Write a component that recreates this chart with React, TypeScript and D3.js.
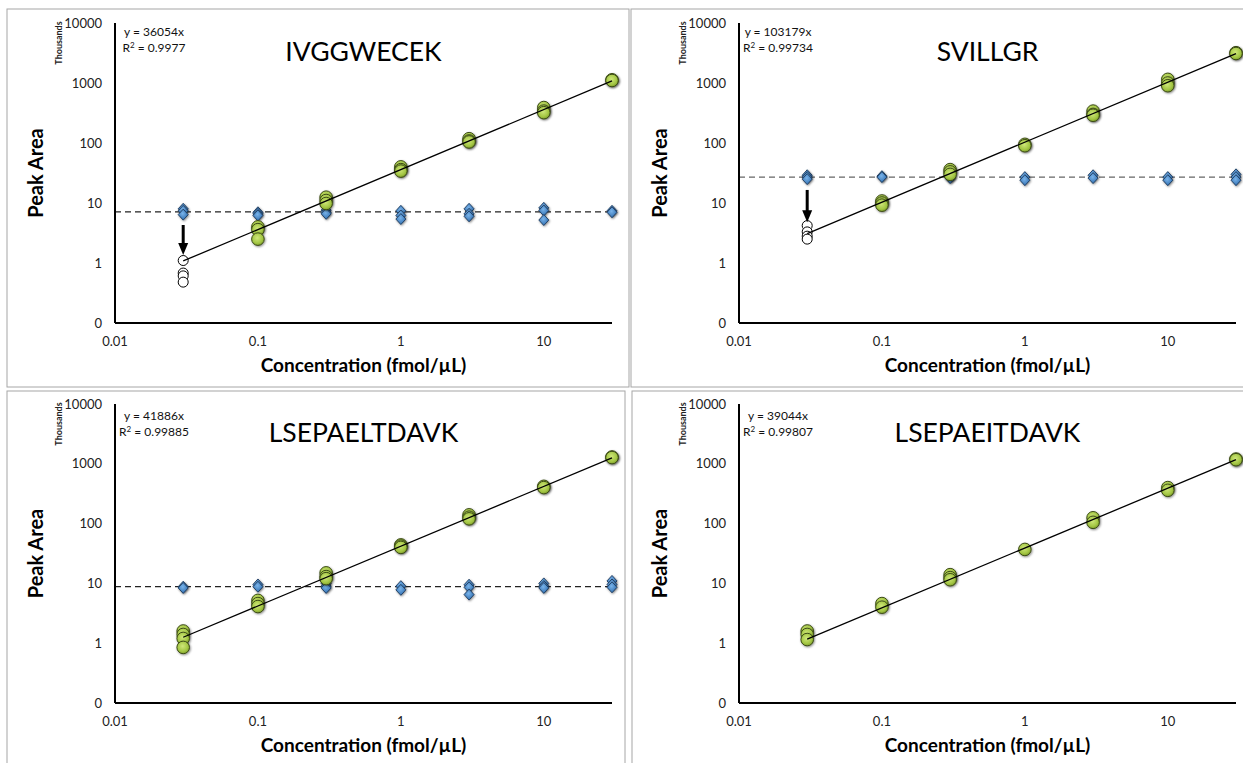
import React from "react";
import * as d3 from "d3";

// concentrations (fmol/uL) and axis ticks
const CONCENTRATIONS = [0.03, 0.1, 0.3, 1, 3, 10, 30];
const X_TICKS = [0.01, 0.1, 1, 10];
const X_TICK_LABELS = ["0.01", "0.1", "1", "10"];
const Y_TICKS = [0.1, 1, 10, 100, 1000, 10000];
const Y_TICK_LABELS = ["0", "1", "10", "100", "1000", "10000"];

// peak areas in thousands, replicates per concentration
const ivgPeaks = [[], [4.0, 3.6, 2.5], [12.5, 11, 9.8], [40, 36, 34], [118, 108, 104], [390, 340, 320], [1130, 1100]];
const ivgBelowLoq = [1.1, 0.68, 0.61, 0.48];
const ivgBlank = [[8.0, 7.4, 6.4], [7.0, 6.6, 6.2], [7.6, 7.0, 6.6], [7.4, 6.2, 5.4], [8.0, 6.6, 6.0], [8.3, 7.5, 5.2], [7.4, 7.0]];
const ivgBlankLevel = 7.1;

const svgPeaks = [[], [10.8, 10.0, 9.2], [36, 33, 30], [95, 90], [340, 300, 290], [1150, 1000, 900], [3200, 3100]];
const svgBelowLoq = [4.2, 3.3, 2.8, 2.5];
const svgBlank = [[29, 27, 25], [28, 27], [28, 27, 26], [27, 24], [29, 26], [27, 24], [30, 27, 24]];
const svgBlankLevel = 27;

const lseLPeaks = [[1.6, 1.4, 1.2, 0.85], [5.2, 4.6, 4.1], [15, 13, 12], [44, 42, 40], [140, 128, 120], [420, 400], [1300, 1270]];
const lseLBlank = [[8.8, 8.4], [9.6, 8.8], [10, 9.0, 8.4], [9.0, 7.8], [9.5, 8.6, 6.5], [10, 9.0, 8.4], [11, 9.6, 8.6]];
const lseLBlankLevel = 8.8;

const lseIPeaks = [[1.6, 1.4, 1.15], [4.6, 4.0], [14, 12.5, 11.5], [37], [125, 105], [400, 360], [1200, 1170]];

const TITLES = ["IVGGWECEK", "SVILLGR", "LSEPAELTDAVK", "LSEPAEITDAVK"];
const SLOPES = [36054, 103179, 41886, 39044];
const R2 = ["0.9977", "0.99734", "0.99885", "0.99807"];
// arrows marking the lowest point below LOQ: [from, to] in thousands
const ARROWS: (number[] | null)[] = [[4.3, 1.36], [16.5, 4.8], null, null];

const FONT = "Lato, 'Open Sans', sans-serif";

type Panel = {
  title: string;
  slope: number;
  r2: string;
  peaks: number[][];
  belowLoq: number[];
  blank: number[][] | null;
  blankLevel: number | null;
  blankColor: string;
  arrow: number[] | null;
  box: [number, number, number, number];
  axisX: number;
  right: number;
  top: number;
  bottom: number;
  eqDy: number;
};

const panels: Panel[] = [
  { title: TITLES[0], slope: SLOPES[0], r2: R2[0], peaks: ivgPeaks, belowLoq: ivgBelowLoq, blank: ivgBlank, blankLevel: ivgBlankLevel, blankColor: "#222", arrow: ARROWS[0],
    box: [7, 9, 629, 387], axisX: 115, right: 612, top: 23, bottom: 323, eqDy: 13 },
  { title: TITLES[1], slope: SLOPES[1], r2: R2[1], peaks: svgPeaks, belowLoq: svgBelowLoq, blank: svgBlank, blankLevel: svgBlankLevel, blankColor: "#666", arrow: ARROWS[1],
    box: [631, 9, 1250, 387], axisX: 739, right: 1236, top: 23, bottom: 323, eqDy: 13 },
  { title: TITLES[2], slope: SLOPES[2], r2: R2[2], peaks: lseLPeaks, belowLoq: [], blank: lseLBlank, blankLevel: lseLBlankLevel, blankColor: "#222", arrow: ARROWS[2],
    box: [7, 391, 625, 770], axisX: 115, right: 612, top: 404, bottom: 703, eqDy: 16 },
  { title: TITLES[3], slope: SLOPES[3], r2: R2[3], peaks: lseIPeaks, belowLoq: [], blank: null, blankLevel: null, blankColor: "#222", arrow: ARROWS[3],
    box: [632, 391, 1250, 770], axisX: 739, right: 1236, top: 404, bottom: 703, eqDy: 16 },
];

const diamond = (cx: number, cy: number) =>
  `M${cx},${cy - 5.5}L${cx + 5},${cy}L${cx},${cy + 5.5}L${cx - 5},${cy}Z`;

function Chart({ p }: { p: Panel }) {
  const x = d3.scaleLog().domain([0.01, 30]).range([p.axisX, p.right]);
  const y = d3.scaleLog().domain([0.1, 10000]).range([p.bottom, p.top]);
  const fit = d3
    .line<number>()
    .x((c) => x(c))
    .y((c) => y((p.slope / 1000) * c));
  const midX = (p.axisX + p.right) / 2;
  const midY = (p.top + p.bottom) / 2;
  const eqX = p.axisX + 39;

  return (
    <g>
      <rect x={p.box[0]} y={p.box[1]} width={p.box[2] - p.box[0]} height={p.box[3] - p.box[1]} fill="#fff" stroke="#a6a6a6" strokeWidth={1} />
      <text x={eqX} y={p.top + p.eqDy} fontSize={12} textAnchor="middle" fill="#111">{`y = ${p.slope}x`}</text>
      <text x={eqX} y={p.top + p.eqDy + 16} fontSize={12} textAnchor="middle" fill="#111">
        R<tspan fontSize={8} dy={-4}>2</tspan><tspan dy={4}>{` = ${p.r2}`}</tspan>
      </text>
      <text x={midX} y={p.top + 38} fontSize={26.5} textAnchor="middle" fill="#000">{p.title}</text>
      <text transform={`translate(${p.axisX - 57},${p.top + 20}) rotate(-90)`} fontSize={9} fontWeight="bold" textAnchor="middle" dominantBaseline="central" fill="#222">Thousands</text>
      <text transform={`translate(${p.axisX - 80},${midY}) rotate(-90)`} fontSize={20} fontWeight="bold" textAnchor="middle" dominantBaseline="central" fill="#000">Peak Area</text>
      <text x={midX} y={p.bottom + 49} fontSize={19} fontWeight="bold" textAnchor="middle" fill="#000">Concentration (fmol/µL)</text>

      {Y_TICKS.map((t, i) => (
        <text key={t} x={p.axisX - 13} y={y(t)} dy="0.35em" fontSize={13} textAnchor="end" fill="#222">{Y_TICK_LABELS[i]}</text>
      ))}
      {X_TICKS.map((t, i) => (
        <text key={t} x={x(t)} y={p.bottom + 23} fontSize={13} textAnchor="middle" fill="#222">{X_TICK_LABELS[i]}</text>
      ))}

      {p.blankLevel !== null && (
        <line x1={p.axisX} x2={p.right} y1={y(p.blankLevel)} y2={y(p.blankLevel)} stroke={p.blankColor} strokeWidth={1.2} strokeDasharray="6,4" />
      )}
      {p.blank &&
        p.blank.map((reps, i) =>
          reps.map((v, j) => (
            <path key={`b${i}-${j}`} d={diamond(x(CONCENTRATIONS[i]), y(v))} fill="url(#blueGrad)" stroke="#1d3a5c" strokeWidth={0.9} filter="url(#shadow)" />
          ))
        )}
      {p.belowLoq.map((v, j) => (
        <circle key={`w${j}`} cx={x(CONCENTRATIONS[0])} cy={y(v)} r={5} fill="#fff" stroke="#000" strokeWidth={1} />
      ))}
      {p.peaks.map((reps, i) =>
        reps.map((v, j) => (
          <circle key={`g${i}-${j}`} cx={x(CONCENTRATIONS[i])} cy={y(v)} r={6.3} fill="url(#greenGrad)" stroke="#3b4a16" strokeWidth={1} filter="url(#shadow)" />
        ))
      )}
      <path d={fit([CONCENTRATIONS[0], CONCENTRATIONS[CONCENTRATIONS.length - 1]]) || ""} fill="none" stroke="#000" strokeWidth={1.3} />

      {p.arrow && (
        <g>
          <line x1={x(CONCENTRATIONS[0])} x2={x(CONCENTRATIONS[0])} y1={y(p.arrow[0])} y2={y(p.arrow[1]) - 10} stroke="#000" strokeWidth={3} />
          <path
            d={`M${x(CONCENTRATIONS[0]) - 5},${y(p.arrow[1]) - 12}L${x(CONCENTRATIONS[0]) + 5},${y(p.arrow[1]) - 12}L${x(CONCENTRATIONS[0])},${y(p.arrow[1])}Z`}
            fill="#000"
          />
        </g>
      )}

      <line x1={p.axisX} x2={p.axisX} y1={p.top} y2={p.bottom} stroke="#000" strokeWidth={2} />
      <line x1={p.axisX} x2={p.right} y1={p.bottom} y2={p.bottom} stroke="#000" strokeWidth={2} />
    </g>
  );
}

export default function App() {
  return (
    <svg width={1243} height={763} style={{ position: "absolute", left: 0, top: 0, fontFamily: FONT }}>
      <defs>
        <radialGradient id="greenGrad" cx="45%" cy="40%" r="60%">
          <stop offset="0%" stopColor="#cfe77a" />
          <stop offset="70%" stopColor="#a3c643" />
          <stop offset="100%" stopColor="#7f9f2c" />
        </radialGradient>
        <radialGradient id="blueGrad" cx="45%" cy="40%" r="60%">
          <stop offset="0%" stopColor="#7ab4ea" />
          <stop offset="100%" stopColor="#2f6eb0" />
        </radialGradient>
        <filter id="shadow" x="-50%" y="-50%" width="200%" height="200%">
          <feDropShadow dx={0.8} dy={1} stdDeviation={0.8} floodOpacity={0.45} />
        </filter>
      </defs>
      <rect width={1243} height={763} fill="#fff" />
      {panels.map((p) => (
        <Chart key={p.title} p={p} />
      ))}
    </svg>
  );
}
